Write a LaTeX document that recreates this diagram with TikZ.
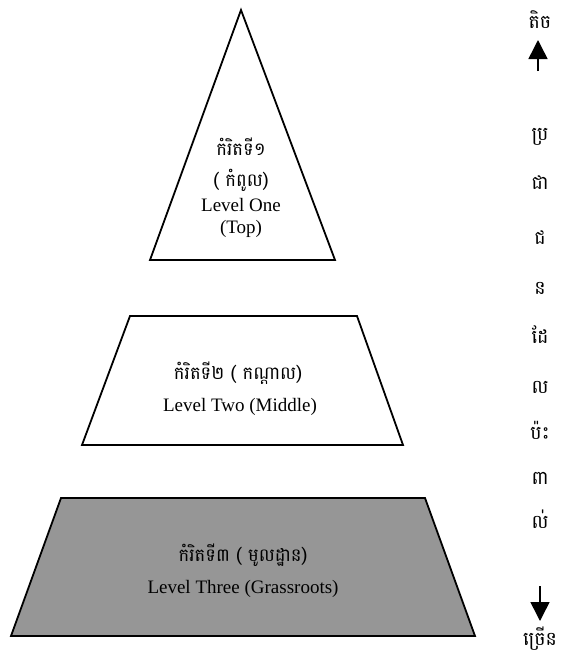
\documentclass[tikz,border=0pt]{standalone}
\usepackage{fontspec}
\setmainfont{Liberation Serif}
\newfontfamily\khmerfont[Script=Khmer]{Battambang}
\usetikzlibrary{arrows.meta}

\begin{document}
\begin{tikzpicture}[x=1pt, y=-1pt,
    level/.style={draw=black, line width=1.8pt, line join=miter},
    lvlkh/.style={font=\khmerfont\fontsize{18}{20}\selectfont, anchor=base},
    lvlen/.style={font=\fontsize{19}{22}\selectfont, anchor=base},
    side/.style={font=\khmerfont\fontsize{19}{20}\selectfont, anchor=base},
    updown/.style={line width=1.5pt, -{Triangle[length=19pt, width=19pt]}}]

    \useasboundingbox (0,0) rectangle (566,657);

    %% ------
    %% Pyramid: three levels placed on fixed pixel coordinates
    %% ----

    % Level one (top)
    \coordinate (oneA) at (241,10);
    \coordinate (oneB) at (335,260);
    \coordinate (oneC) at (150,260);
    \draw[level] (oneA) -- (oneB) -- (oneC) -- cycle;
    \node[lvlkh] (oneKh) at (241,155) {កំរិតទី១};
    \node[lvlkh] (oneTop) at (241,186) {( កំពូល)};
    \node[lvlen] (oneEn) at (241,211) {Level One};
    \node[lvlen] (oneEnb) at (241,233) {(Top)};

    % Level two (middle)
    \coordinate (twoA) at (130,316);
    \coordinate (twoB) at (357,316);
    \coordinate (twoC) at (403,445);
    \coordinate (twoD) at (82,445);
    \draw[level] (twoA) -- (twoB) -- (twoC) -- (twoD) -- cycle;
    \node[lvlkh] (twoKh) at (238,379) {កំរិតទី២ ( កណ្តាល)};
    \node[lvlen] (twoEn) at (240,411) {Level Two (Middle)};

    % Level three (grassroots)
    \coordinate (threeA) at (61,498);
    \coordinate (threeB) at (425,498);
    \coordinate (threeC) at (475,636);
    \coordinate (threeD) at (11,636);
    \draw[level, fill={rgb,255:red,150;green,150;blue,150}] (threeA) -- (threeB) -- (threeC) -- (threeD) -- cycle;
    \node[lvlkh] (threeKh) at (243,561) {កំរិតទី៣ ( មូលដ្ឋាន)};
    \node[lvlen] (threeEn) at (243,593) {Level Three (Grassroots)};

    %% ------
    %% Side scale: few (top) to many (bottom)
    %% ----

    % few
    \node[side] (few) at (540,28) {តិច};
    \coordinate (upTail) at (538,71);
    \coordinate (upTip) at (538,40);
    \draw[updown] (upTail) -- (upTip);

    % affected people, one syllable per line
    \foreach \syl/\ypos [count=\i] in {ប្រ/140, ជា/189, ជ/244, ន/294, ដែ/343, ល/393, ប៉ះ/439, ពា/484, ល់/528}
        \node[side] (p\i) at (540,\ypos) {\syl};

    % many
    \coordinate (downTail) at (540,586);
    \coordinate (downTip) at (540,621);
    \draw[updown] (downTail) -- (downTip);
    \node[side] (many) at (540,645) {ច្រើន};

\end{tikzpicture}
\end{document}
